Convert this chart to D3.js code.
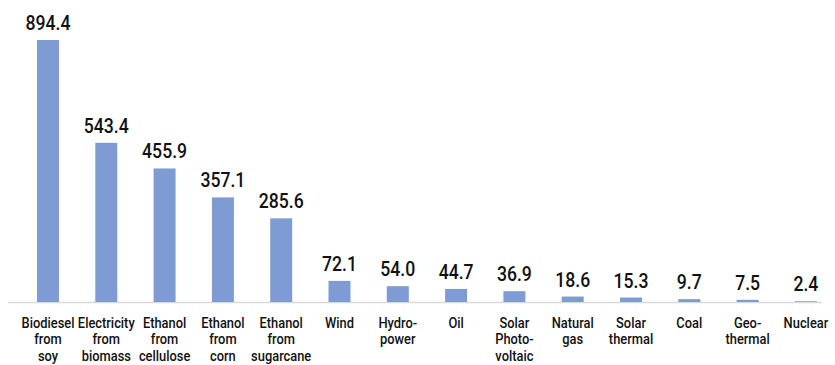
<!DOCTYPE html>
<html>
<head>
<meta charset="utf-8">
<script src="https://cdn.jsdelivr.net/npm/d3@7"></script>
<style>
  html, body { margin: 0; padding: 0; background: #fff; }
  svg { display: block; }
</style>
</head>
<body>
<svg id="chart" width="835" height="365"></svg>
<script>
// Category names (line breaks mark wrapped labels)
const categories = [
  "Biodiesel\nfrom\nsoy",
  "Electricity\nfrom\nbiomass",
  "Ethanol\nfrom\ncellulose",
  "Ethanol\nfrom\ncorn",
  "Ethanol\nfrom\nsugarcane",
  "Wind",
  "Hydro-\npower",
  "Oil",
  "Solar\nPhoto-\nvoltaic",
  "Natural\ngas",
  "Solar\nthermal",
  "Coal",
  "Geo-\nthermal",
  "Nuclear"
];

// Value for each category
const values = [894.4, 543.4, 455.9, 357.1, 285.6, 72.1, 54.0, 44.7, 36.9, 18.6, 15.3, 9.7, 7.5, 2.4];

const svg = d3.select("#chart");
const font = "Roboto, 'Liberation Sans', Arial, sans-serif";

const baseY = 302;
const x = d3.scaleBand()
  .domain(categories)
  .range([19.5, 834.4])
  .paddingInner(0.623)
  .paddingOuter(0.3);

const y = d3.scaleLinear()
  .domain([0, 894.4])
  .range([baseY, 40]);

const cx = c => x(c) + x.bandwidth() / 2;

// Baseline
svg.append("line")
  .attr("x1", 8).attr("x2", 822)
  .attr("y1", baseY + 0.5).attr("y2", baseY + 0.5)
  .attr("stroke", "#d9d9d9")
  .attr("stroke-width", 1.5);

const data = categories.map((c, i) => ({ c, v: values[i] }));

// Bars
svg.selectAll("rect.bar")
  .data(data)
  .join("rect")
  .attr("class", "bar")
  .attr("x", d => x(d.c))
  .attr("width", x.bandwidth())
  .attr("y", d => y(d.v))
  .attr("height", d => y(0) - y(d.v))
  .attr("fill", "#7e9bd4");

// Value labels (horizontally condensed)
svg.selectAll("text.val")
  .data(data)
  .join("text")
  .attr("class", "val")
  .attr("transform", d => `translate(${cx(d.c)},${y(d.v) - 10}) scale(0.84,1)`)
  .attr("text-anchor", "middle")
  .attr("font-family", font)
  .attr("font-size", 21)
  .attr("font-weight", 500)
  .attr("fill", "#111")
  .text(d => d.v.toFixed(1));

// Category labels, one tspan per line
const cat = svg.selectAll("text.cat")
  .data(data)
  .join("text")
  .attr("class", "cat")
  .attr("text-anchor", "middle")
  .attr("font-family", font)
  .attr("font-size", 14)
  .attr("font-weight", 500)
  .attr("fill", "#111")
  .attr("transform", d => `translate(${cx(d.c)},328) scale(0.92,1)`);

cat.selectAll("tspan")
  .data(d => d.c.split("\n"))
  .join("tspan")
  .attr("x", 0)
  .attr("y", (d, i) => i * 16.5)
  .text(d => d);
</script>
</body>
</html>
